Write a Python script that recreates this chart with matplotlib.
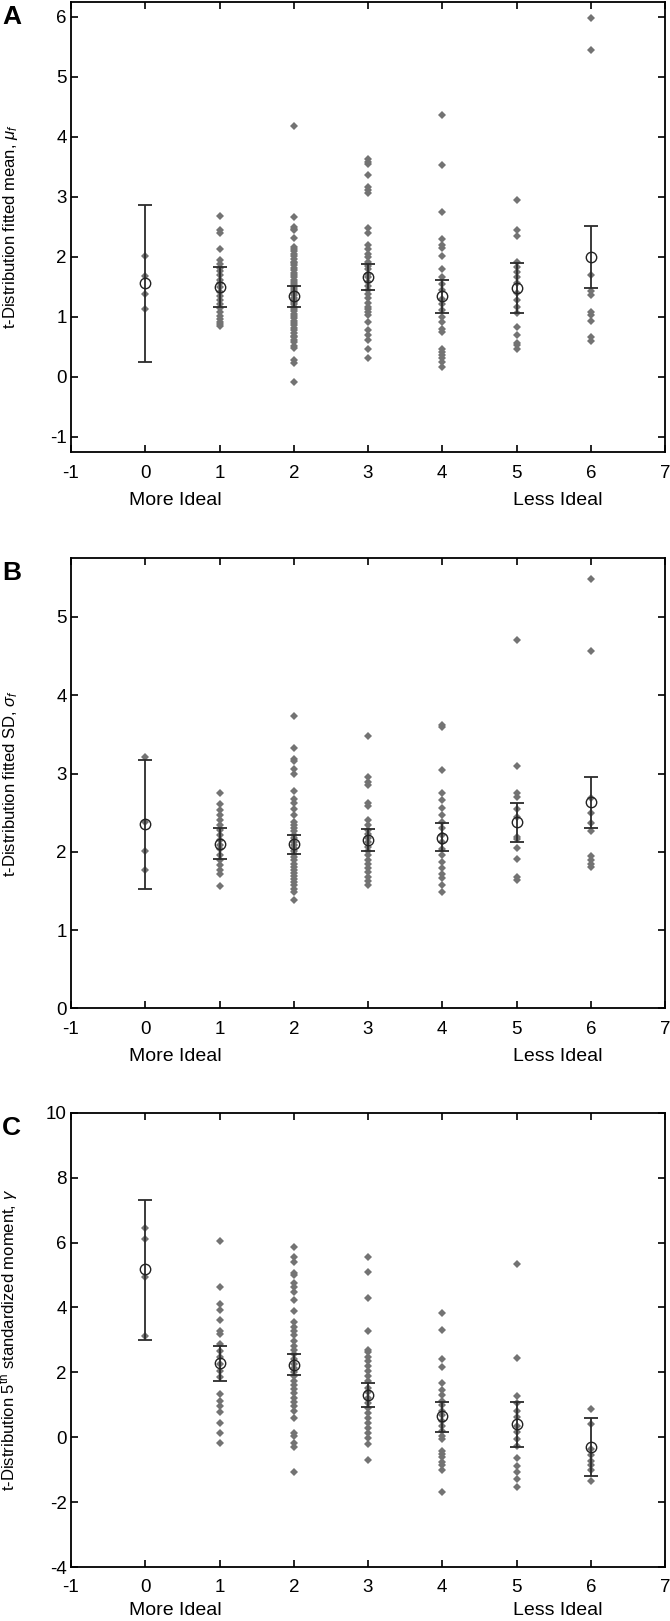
import numpy as np
import matplotlib.pyplot as plt

plt.rcParams['font.family'] = ['Liberation Sans', 'DejaVu Sans']
plt.rcParams['mathtext.fontset'] = 'custom'
plt.rcParams['mathtext.rm'] = 'Liberation Sans'
plt.rcParams['mathtext.it'] = 'Liberation Sans:italic'
plt.rcParams['axes.unicode_minus'] = False

groups = [0, 1, 2, 3, 4, 5, 6]

# ---- panel A : fitted mean ----
a_pts = [
    [2.02, 1.68, 1.38, 1.14],
    [2.68, 2.45, 2.40, 2.13, 1.94, 1.88, 1.82, 1.76, 1.69, 1.62, 1.56, 1.49, 1.42,
     1.35, 1.28, 1.21, 1.15, 1.08, 1.02, 0.97, 0.92, 0.88, 0.85],
    [4.18, 2.66, 2.49, 2.47, 2.44, 2.32, 2.16, 2.13, 2.09, 2.04, 2.01, 1.97, 1.92,
     1.89, 1.86, 1.81, 1.78, 1.73, 1.70, 1.66, 1.61, 1.58, 1.54, 1.50, 1.47, 1.43,
     1.39, 1.36, 1.31, 1.28, 1.25, 1.21, 1.17, 1.13, 1.10, 1.05, 1.02, 0.98, 0.93,
     0.90, 0.86, 0.81, 0.78, 0.74, 0.69, 0.66, 0.62, 0.59, 0.51, 0.48, 0.29, 0.24,
     -0.09],
    [3.63, 3.58, 3.54, 3.37, 3.17, 3.11, 3.06, 2.48, 2.39, 2.19, 2.13, 2.05, 1.99,
     1.92, 1.85, 1.79, 1.72, 1.66, 1.58, 1.52, 1.45, 1.38, 1.31, 1.24, 1.17, 1.14,
     1.08, 1.03, 0.91, 0.78, 0.70, 0.61, 0.46, 0.32],
    [4.37, 3.53, 2.75, 2.30, 2.19, 2.15, 2.02, 1.80, 1.66, 1.55, 1.44, 1.30, 1.22,
     1.11, 1.00, 0.92, 0.80, 0.75, 0.47, 0.42, 0.36, 0.31, 0.25, 0.16],
    [2.94, 2.45, 2.34, 1.91, 1.83, 1.75, 1.67, 1.56, 1.39, 1.28, 1.17, 1.06, 0.84,
     0.70, 0.57, 0.53, 0.46],
    [5.98, 5.44, 1.69, 1.43, 1.37, 1.08, 1.04, 0.93, 0.66, 0.60],
]
a_mean = [1.57, 1.50, 1.35, 1.66, 1.35, 1.48, 2.00]
a_lo = [0.25, 1.16, 1.16, 1.44, 1.07, 1.07, 1.48]
a_hi = [2.87, 1.83, 1.52, 1.88, 1.62, 1.89, 2.52]

# ---- panel B : fitted SD ----
b_pts = [
    [3.21, 2.38, 2.01, 1.77],
    [2.75, 2.61, 2.54, 2.47, 2.41, 2.34, 2.28, 2.22, 2.15, 2.09, 2.03, 1.96, 1.90,
     1.83, 1.77, 1.71, 1.56],
    [3.74, 3.32, 3.18, 3.16, 3.06, 3.00, 2.78, 2.67, 2.62, 2.55, 2.47, 2.38, 2.34,
     2.30, 2.26, 2.21, 2.17, 2.13, 2.09, 2.05, 2.01, 1.97, 1.93, 1.89, 1.85, 1.81,
     1.77, 1.73, 1.69, 1.65, 1.61, 1.57, 1.53, 1.49, 1.39],
    [3.48, 2.96, 2.89, 2.85, 2.62, 2.59, 2.41, 2.34, 2.28, 2.23, 2.17, 2.12, 2.06,
     2.01, 1.96, 1.90, 1.85, 1.79, 1.74, 1.68, 1.63, 1.58],
    [3.62, 3.59, 3.05, 2.75, 2.66, 2.56, 2.47, 2.38, 2.30, 2.21, 2.13, 2.04, 1.96,
     1.87, 1.79, 1.71, 1.67, 1.58, 1.48],
    [4.71, 3.10, 2.75, 2.70, 2.55, 2.44, 2.19, 2.16, 2.05, 1.91, 1.68, 1.64],
    [5.48, 4.57, 2.69, 2.49, 2.37, 2.27, 1.94, 1.90, 1.85, 1.81],
]
b_mean = [2.35, 2.10, 2.10, 2.15, 2.18, 2.38, 2.63]
b_lo = [1.52, 1.91, 1.97, 2.01, 2.01, 2.12, 2.31]
b_hi = [3.17, 2.30, 2.22, 2.29, 2.37, 2.62, 2.96]

# ---- panel C : 5th standardized moment ----
c_pts = [
    [6.44, 6.10, 4.95, 3.11],
    [6.05, 4.62, 4.10, 3.92, 3.61, 3.28, 3.18, 2.87, 2.66, 2.46, 2.26, 2.05, 1.85,
     1.34, 1.13, 0.95, 0.79, 0.44, 0.12, -0.18],
    [5.85, 5.54, 5.40, 5.06, 5.01, 4.74, 4.64, 4.46, 4.23, 3.90, 3.54, 3.40, 3.28,
     3.14, 2.97, 2.82, 2.68, 2.55, 2.41, 2.27, 2.14, 2.01, 1.88, 1.74, 1.61, 1.49,
     1.35, 1.22, 1.08, 0.95, 0.82, 0.60, 0.12, 0.05, -0.18, -0.29, -1.06],
    [5.56, 5.08, 4.28, 3.28, 2.69, 2.62, 2.48, 2.36, 2.20, 2.05, 1.89, 1.72, 1.53,
     1.38, 1.21, 1.05, 0.90, 0.74, 0.59, 0.43, 0.28, 0.12, -0.03, -0.20, -0.70],
    [3.83, 3.31, 2.41, 2.17, 1.67, 1.44, 1.29, 1.13, 0.98, 0.82, 0.67, 0.51, 0.36,
     0.20, 0.05, -0.05, -0.41, -0.51, -0.62, -0.77, -0.87, -1.02, -1.69],
    [5.34, 2.43, 1.26, 1.05, 0.82, 0.61, 0.36, 0.15, -0.05, -0.26, -0.65, -0.90,
     -1.08, -1.28, -1.54],
    [0.87, 0.41, -0.36, -0.56, -0.72, -0.87, -1.02, -1.35],
]
c_mean = [5.18, 2.28, 2.23, 1.30, 0.64, 0.41, -0.31]
c_lo = [2.98, 1.72, 1.93, 0.92, 0.15, -0.29, -1.20]
c_hi = [7.31, 2.81, 2.57, 1.66, 1.08, 1.10, 0.59]

panels = [
    ('A', a_pts, a_mean, a_lo, a_hi, 't-Distribution fitted mean, $\\mu_f$',
     (-1.25, 6.25), range(-1, 7), 1 - 452 / 1621, 450.3 / 1621, 53),
    ('B', b_pts, b_mean, b_lo, b_hi, 't-Distribution fitted SD, $\\sigma_f$',
     (0, 5.75), range(0, 6), 1 - 1008.3 / 1621, 450 / 1621, 53),
    ('C', c_pts, c_mean, c_lo, c_hi, 't-Distribution 5$^{\\rm th}$ standardized moment, $\\gamma$',
     (-4, 10), range(-4, 11, 2), 1 - 1567 / 1621, 454.3 / 1621, 48),
]

fig = plt.figure(figsize=(6.7, 16.21), dpi=100)

for letter, pts, mean, lo, hi, ylab, ylim, yt, bot, hgt, txt_off in panels:
    ax = fig.add_axes([71 / 670, bot, 594 / 670, hgt])
    for g, vals in zip(groups, pts):
        ax.plot([g] * len(vals), vals, 'D', color='#737373', markersize=3.8,
                markeredgewidth=0, zorder=2)
    mean = np.array(mean)
    yerr = [mean - np.array(lo), np.array(hi) - mean]
    ax.errorbar(groups, mean, yerr=yerr, fmt='none', ecolor='#2b2b2b',
                elinewidth=1.3, capsize=5, capthick=1.3, zorder=3)
    ax.plot(groups, mean, 'o', mfc='none', mec='#222222', mew=1.0,
            markersize=7.5, zorder=4)

    ax.set_xlim(-1, 7)
    ax.set_ylim(*ylim)
    ax.set_xticks(range(-1, 8))
    ax.set_yticks(list(yt))
    ax.tick_params(direction='in', length=5, width=1.2, top=True, right=True,
                   labelsize=13.5)
    ax.tick_params(axis='x', pad=9)
    ax.tick_params(axis='y', pad=3)
    for s in ax.spines.values():
        s.set_linewidth(1.3)
    ax.set_ylabel(ylab, fontsize=12)
    ax.yaxis.set_label_coords(-0.086, 0.5)

    hpx = hgt * 1621
    ax.text(0.41, -txt_off / hpx, 'More Ideal', transform=ax.get_xaxis_transform(),
            ha='center', va='baseline', fontsize=14)
    ax.text(5.56, -txt_off / hpx, 'Less Ideal', transform=ax.get_xaxis_transform(),
            ha='center', va='baseline', fontsize=14)

    fig.text(0.003, bot + hgt - 3 / 1621, letter, ha='left', va='top',
             fontsize=19, fontweight='bold')

fig.savefig('out.png', dpi=100)
